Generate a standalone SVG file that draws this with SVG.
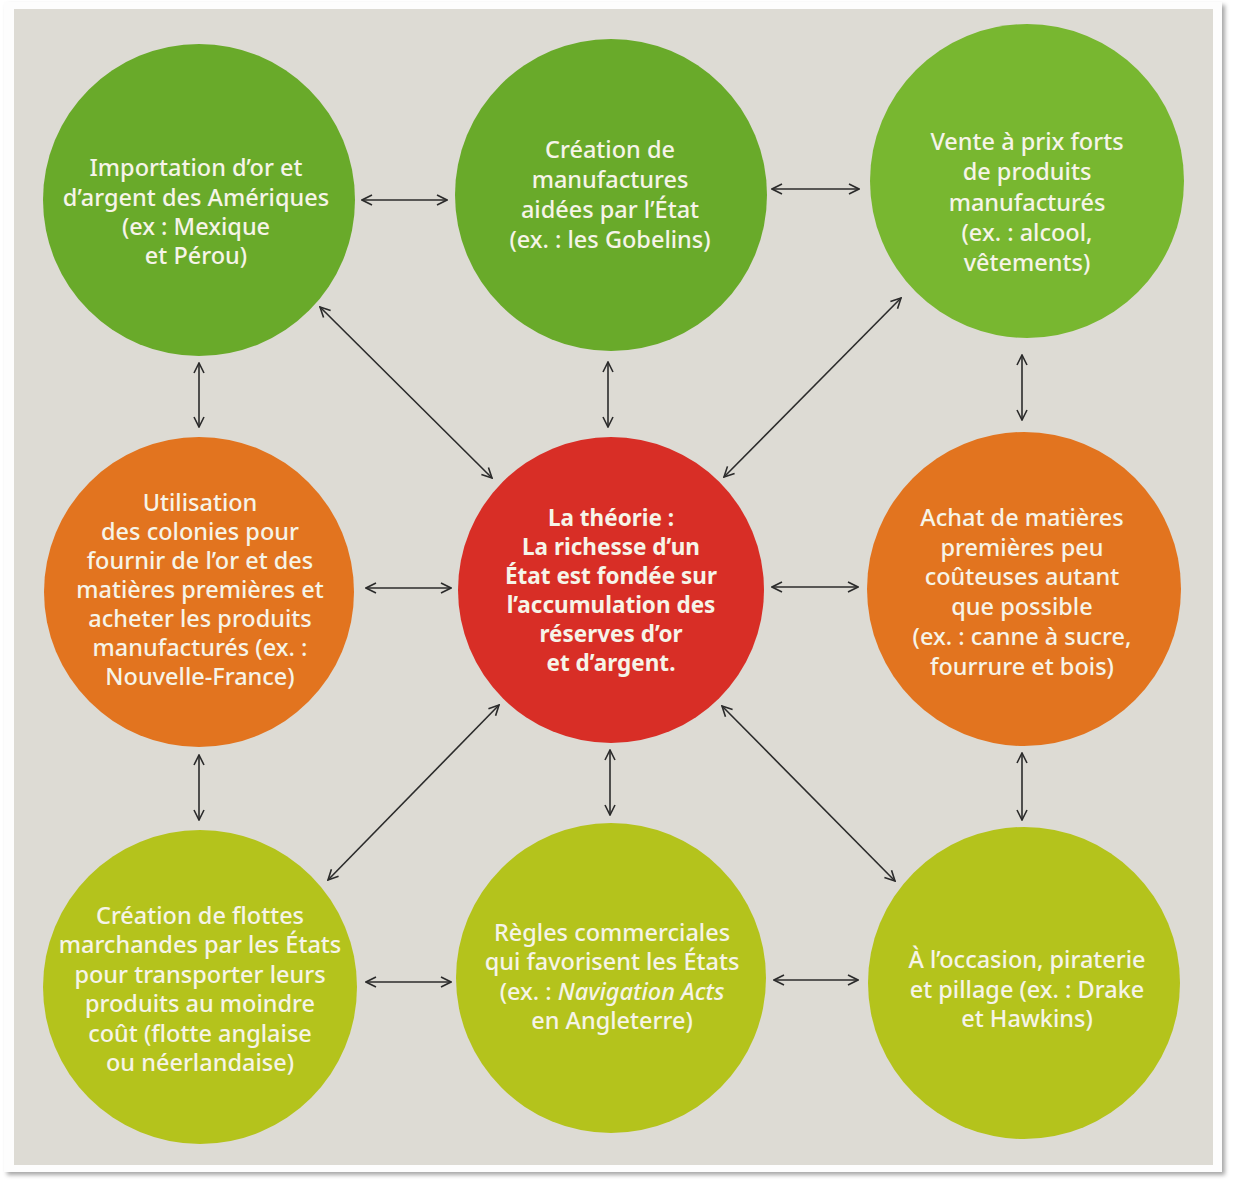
<svg xmlns="http://www.w3.org/2000/svg" width="1236" height="1186" viewBox="0 0 1236 1186">
<defs>
<marker id="ah" viewBox="0 0 12 12" refX="11" refY="6" markerWidth="12" markerHeight="12" markerUnits="userSpaceOnUse" orient="auto-start-reverse">
<path d="M1,1 L11,6 L1,11" fill="none" stroke="#2b2b2b" stroke-width="1.6"/>
</marker>
<filter id="sh" x="-2%" y="-2%" width="104%" height="104%">
<feDropShadow dx="3" dy="3" stdDeviation="2" flood-color="#000" flood-opacity="0.35"/>
</filter>
</defs>
<style>
.t{font-family:"Noto Sans","Open Sans","Liberation Sans",sans-serif;font-size:23.5px;font-weight:500;fill:#f6f4e8;text-anchor:middle}
.b{font-weight:bold;font-size:22.5px}
.c{stroke:#2b2b2b;stroke-width:1.6;fill:none;marker-start:url(#ah);marker-end:url(#ah)}
.g1{fill:#69aa2a}
.g2{fill:#78b730}
.or{fill:#e2741f}
.rd{fill:#d82e26}
.yg{fill:#b4c31c}
</style>
<rect x="0" y="0" width="1236" height="1186" fill="#ffffff"/>
<rect x="4" y="2" width="1218" height="1170" fill="#fdfdfd" filter="url(#sh)"/>
<rect x="14" y="9" width="1199" height="1156" fill="#dddbd4"/>

<g id="connectors">
<line class="c" x1="362" y1="200" x2="447" y2="200"/>
<line class="c" x1="772" y1="189" x2="859" y2="189"/>
<line class="c" x1="366" y1="588" x2="451" y2="588"/>
<line class="c" x1="772" y1="587" x2="858" y2="587"/>
<line class="c" x1="366" y1="982" x2="451" y2="982"/>
<line class="c" x1="774" y1="980" x2="858" y2="980"/>
<line class="c" x1="199" y1="363" x2="199" y2="427"/>
<line class="c" x1="608" y1="362" x2="608" y2="427"/>
<line class="c" x1="1022" y1="355" x2="1022" y2="420"/>
<line class="c" x1="199" y1="755" x2="199" y2="820"/>
<line class="c" x1="610" y1="750" x2="610" y2="815"/>
<line class="c" x1="1022" y1="753" x2="1022" y2="820"/>
<line class="c" x1="320" y1="307" x2="492" y2="478"/>
<line class="c" x1="901" y1="298" x2="724" y2="477"/>
<line class="c" x1="499" y1="705" x2="328" y2="880"/>
<line class="c" x1="722" y1="706" x2="895" y2="881"/>
</g>

<g id="n1">
<circle class="g1" cx="199" cy="200" r="156"/>
<text class="t"><tspan x="196" y="176">Importation d’or et</tspan><tspan x="196" y="206">d’argent des Amériques</tspan><tspan x="196" y="235">(ex : Mexique</tspan><tspan x="196" y="264">et Pérou)</tspan></text>
</g>
<g id="n2">
<circle class="g1" cx="611" cy="195" r="156"/>
<text class="t"><tspan x="610" y="158">Création de</tspan><tspan x="610" y="188">manufactures</tspan><tspan x="610" y="218">aidées par l’État</tspan><tspan x="610" y="248">(ex. : les Gobelins)</tspan></text>
</g>
<g id="n3">
<circle class="g2" cx="1027" cy="181" r="157"/>
<text class="t"><tspan x="1027" y="150">Vente à prix forts</tspan><tspan x="1027" y="180">de produits</tspan><tspan x="1027" y="211">manufacturés</tspan><tspan x="1027" y="241">(ex. : alcool,</tspan><tspan x="1027" y="271">vêtements)</tspan></text>
</g>
<g id="n4">
<circle class="or" cx="199" cy="592" r="155"/>
<text class="t"><tspan x="200" y="511">Utilisation</tspan><tspan x="200" y="540">des colonies pour</tspan><tspan x="200" y="569">fournir de l’or et des</tspan><tspan x="200" y="598">matières premières et</tspan><tspan x="200" y="627">acheter les produits</tspan><tspan x="200" y="656">manufacturés (ex. :</tspan><tspan x="200" y="685">Nouvelle-France)</tspan></text>
</g>
<g id="n5">
<circle class="rd" cx="611" cy="590" r="153"/>
<text class="t b"><tspan x="611" y="526">La théorie :</tspan><tspan x="611" y="555">La richesse d’un</tspan><tspan x="611" y="584">État est fondée sur</tspan><tspan x="611" y="613">l’accumulation des</tspan><tspan x="611" y="642">réserves d’or</tspan><tspan x="611" y="671">et d’argent.</tspan></text>
</g>
<g id="n6">
<circle class="or" cx="1024" cy="589" r="157"/>
<text class="t"><tspan x="1022" y="526">Achat de matières</tspan><tspan x="1022" y="556">premières peu</tspan><tspan x="1022" y="585">coûteuses autant</tspan><tspan x="1022" y="615">que possible</tspan><tspan x="1022" y="645">(ex. : canne à sucre,</tspan><tspan x="1022" y="675">fourrure et bois)</tspan></text>
</g>
<g id="n7">
<circle class="yg" cx="200" cy="987" r="157"/>
<text class="t"><tspan x="200" y="924">Création de flottes</tspan><tspan x="200" y="953">marchandes par les États</tspan><tspan x="200" y="983">pour transporter leurs</tspan><tspan x="200" y="1012">produits au moindre</tspan><tspan x="200" y="1042">coût (flotte anglaise</tspan><tspan x="200" y="1071">ou néerlandaise)</tspan></text>
</g>
<g id="n8">
<circle class="yg" cx="611" cy="978" r="155"/>
<text class="t"><tspan x="612" y="941">Règles commerciales</tspan><tspan x="612" y="970">qui favorisent les États</tspan><tspan x="612" y="1000">(ex. : <tspan font-style="italic">Navigation Acts</tspan></tspan><tspan x="612" y="1029">en Angleterre)</tspan></text>
</g>
<g id="n9">
<circle class="yg" cx="1024" cy="983" r="156"/>
<text class="t"><tspan x="1027" y="968">À l’occasion, piraterie</tspan><tspan x="1027" y="998">et pillage (ex. : Drake</tspan><tspan x="1027" y="1027">et Hawkins)</tspan></text>
</g>
</svg>
